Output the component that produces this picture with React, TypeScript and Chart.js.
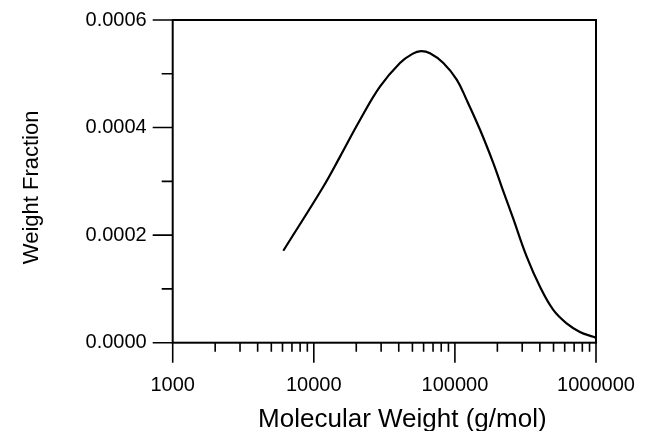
import React, { useEffect, useRef } from "react";
import { Chart, registerables } from "chart.js";

Chart.register(...registerables);

// Molecular weight (g/mol) and weight fraction
const molecularWeight = [6080, 11670, 15350, 21240, 29430, 40800, 50000, 57500, 66600, 82800, 103000, 121300, 150700, 187200, 215900, 258000, 322700, 401100, 498000, 619000, 769000, 957000, 1000000];
const weightFraction = [0.000171, 0.00029, 0.000346, 0.000414, 0.000476, 0.00052, 0.000537, 0.000542, 0.000538, 0.00052, 0.000489, 0.000451, 0.000396, 0.000334, 0.000288, 0.000232, 0.00016, 0.000104, 0.000061, 0.000036, 0.00002, 0.000011, 0.000009];

const xMajorTicks = [1000, 10000, 100000, 1000000];
const xMinorMultipliers = [2, 3, 4, 5, 6, 7, 8, 9];
const yMajorTicks = [0, 0.0002, 0.0004, 0.0006];
const yMinorTicks = [0.0001, 0.0003, 0.0005];

const xTitle = "Molecular Weight (g/mol)";
const yTitle = "Weight Fraction";

const FONT = "'Liberation Sans', Arial, Helvetica, sans-serif";

const framePlugin = {
  id: "frame",
  afterDraw(chart: any) {
    const { ctx, chartArea: a, scales } = chart;
    const xs = scales.x;
    const ys = scales.y;
    ctx.save();
    ctx.strokeStyle = "#000";
    ctx.lineWidth = 2;
    ctx.strokeRect(a.left, a.top, a.right - a.left, a.bottom - a.top);
    ctx.lineWidth = 1.6;
    ctx.beginPath();
    for (const v of yMajorTicks) {
      const p = ys.getPixelForValue(v);
      ctx.moveTo(a.left - 20, p);
      ctx.lineTo(a.left, p);
    }
    for (const v of yMinorTicks) {
      const p = ys.getPixelForValue(v);
      ctx.moveTo(a.left - 11, p);
      ctx.lineTo(a.left, p);
    }
    for (const v of xMajorTicks) {
      const p = xs.getPixelForValue(v);
      ctx.moveTo(p, a.bottom);
      ctx.lineTo(p, a.bottom + 20);
    }
    for (let i = 0; i < xMajorTicks.length - 1; i++) {
      for (const m of xMinorMultipliers) {
        const p = xs.getPixelForValue(xMajorTicks[i] * m);
        ctx.moveTo(p, a.bottom);
        ctx.lineTo(p, a.bottom + 9);
      }
    }
    ctx.stroke();

    // axis titles
    ctx.fillStyle = "#000";
    ctx.textAlign = "center";
    ctx.textBaseline = "alphabetic";
    ctx.font = `26px ${FONT}`;
    ctx.fillText(xTitle, (a.left + a.right) / 2 + 18, a.bottom + 84);
    ctx.save();
    ctx.translate(38, (a.top + a.bottom) / 2 + 6);
    ctx.rotate(-Math.PI / 2);
    ctx.font = `22px ${FONT}`;
    ctx.fillText(yTitle, 0, 0);
    ctx.restore();
    ctx.restore();
  },
};

export default function App() {
  const ref = useRef<HTMLCanvasElement | null>(null);

  useEffect(() => {
    document.body.style.margin = "0";
    const canvas = ref.current;
    if (!canvas) return;
    const chart = new Chart(canvas, {
      type: "line",
      data: {
        datasets: [
          {
            data: molecularWeight.map((x, i) => ({ x, y: weightFraction[i] })),
            borderColor: "#000",
            borderWidth: 2.2,
            pointRadius: 0,
            fill: false,
            tension: 0.4,
          },
        ],
      },
      options: {
        animation: false,
        responsive: false,
        events: [],
        layout: { padding: { left: 0, right: 51, top: 20, bottom: 0 } },
        plugins: { legend: { display: false }, tooltip: { enabled: false } },
        scales: {
          x: {
            type: "logarithmic",
            min: 1000,
            max: 1000000,
            grid: { display: false, drawTicks: false },
            border: { display: false },
            afterBuildTicks: (s: any) => {
              s.ticks = xMajorTicks.map((v) => ({ value: v }));
            },
            afterFit: (s: any) => {
              s.height = 88.3;
              s.paddingLeft = 0;
              s.paddingRight = 0;
            },
            ticks: {
              autoSkip: false,
              maxRotation: 0,
              padding: 31,
              color: "#000",
              font: { family: FONT, size: 20 },
              callback: (v: any) => String(v),
            },
          },
          y: {
            type: "linear",
            min: 0,
            max: 0.0006,
            grid: { display: false, drawTicks: false },
            border: { display: false },
            afterBuildTicks: (s: any) => {
              s.ticks = yMajorTicks.map((v) => ({ value: v }));
            },
            afterFit: (s: any) => {
              s.width = 172.7;
              s.paddingTop = 0;
              s.paddingBottom = 0;
            },
            ticks: {
              autoSkip: false,
              padding: 26,
              color: "#000",
              font: { family: FONT, size: 20 },
              callback: (v: any) => Number(v).toFixed(4),
            },
          },
        },
      },
      plugins: [framePlugin],
    });
    return () => chart.destroy();
  }, []);

  return (
    <div style={{ position: "absolute", left: 0, top: 0, width: 647, height: 431, background: "#fff" }}>
      <canvas ref={ref} width={647} height={431} style={{ display: "block" }} />
    </div>
  );
}
